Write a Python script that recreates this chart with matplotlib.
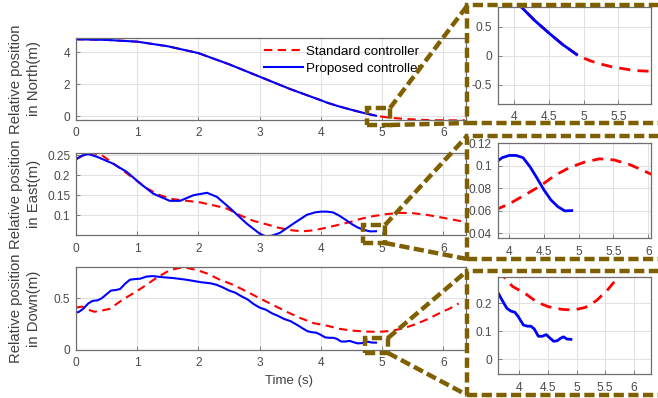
import matplotlib
matplotlib.use("Agg")
import matplotlib.pyplot as plt
from matplotlib.lines import Line2D
from matplotlib.patches import Rectangle
from matplotlib.ticker import FuncFormatter

plt.rcParams['font.family'] = ['Liberation Sans', 'DejaVu Sans']
plt.rcParams['axes.unicode_minus'] = False

# ---------------- data ----------------
north_t_blue = [0.0, 0.5, 1.0, 1.5, 2.0, 2.5, 3.0, 3.5, 4.0, 4.1, 4.3, 4.5, 4.7, 4.9]
north_blue   = [4.82, 4.78, 4.67, 4.38, 3.95, 3.25, 2.47, 1.69, 0.99, 0.84, 0.60, 0.39, 0.19, 0.02]
north_t_red  = [0.0, 0.5, 1.0, 1.5, 2.0, 2.5, 3.0, 3.5, 4.0, 4.1, 4.3, 4.5, 4.7, 4.9,
                5.0, 5.1, 5.2, 5.3, 5.4, 5.5, 5.6, 5.7, 5.8, 6.0, 6.2, 6.35]
north_red    = [4.82, 4.78, 4.67, 4.38, 3.95, 3.25, 2.47, 1.69, 0.99, 0.84, 0.60, 0.39, 0.19, 0.02,
                -0.04, -0.09, -0.13, -0.16, -0.19, -0.21, -0.23, -0.25, -0.26, -0.27, -0.27, -0.27]

east_t_blue = [0.0, 0.1, 0.2, 0.34, 0.6, 0.83, 1.05, 1.26, 1.53, 1.7, 1.92, 2.14, 2.3, 2.52,
               2.79, 3.0, 3.1, 3.2, 3.33, 3.55, 3.77, 3.9, 4.0, 4.1, 4.2, 4.3, 4.4, 4.5,
               4.6, 4.7, 4.8, 4.9]
east_blue   = [0.239, 0.249, 0.2525, 0.246, 0.229, 0.208, 0.179, 0.154, 0.136, 0.136, 0.150,
               0.156, 0.146, 0.117, 0.079, 0.054, 0.0475, 0.049, 0.056, 0.079, 0.101, 0.107,
               0.109, 0.109, 0.107, 0.099, 0.089, 0.0785, 0.0696, 0.0636, 0.0598, 0.0601]
east_t_red  = [0.0, 0.2, 0.39, 0.56, 0.72, 0.94, 1.16, 1.37, 1.59, 1.81, 2.03, 2.24, 2.46,
               2.68, 2.9, 3.12, 3.33, 3.55, 3.7, 3.85, 4.0, 4.2, 4.45, 4.65, 4.86, 5.08,
               5.3, 5.51, 5.73, 5.95, 6.16, 6.33]
east_red    = [0.241, 0.254, 0.253, 0.235, 0.217, 0.192, 0.167, 0.150, 0.140, 0.136, 0.132,
               0.125, 0.117, 0.100, 0.086, 0.077, 0.068, 0.062, 0.060, 0.062, 0.066, 0.073,
               0.082, 0.091, 0.098, 0.103, 0.106, 0.105, 0.101, 0.095, 0.089, 0.084]

down_t_blue = [0.0, 0.05, 0.12, 0.2, 0.27, 0.35, 0.42, 0.5, 0.57, 0.65, 0.72, 0.8, 0.88, 0.95,
               1.05, 1.15, 1.25, 1.4, 1.6, 1.8, 1.95, 2.05, 2.2, 2.3, 2.4, 2.5, 2.6, 2.7,
               2.8, 2.9, 3.0, 3.1, 3.2, 3.3, 3.4, 3.5, 3.62, 3.7, 3.78, 3.85, 3.92, 3.98,
               4.07, 4.14, 4.2, 4.26, 4.33, 4.4, 4.47, 4.53, 4.6, 4.66, 4.72, 4.77, 4.83, 4.9]
down_blue   = [0.36, 0.37, 0.40, 0.45, 0.475, 0.48, 0.50, 0.54, 0.575, 0.58, 0.59, 0.64, 0.68,
               0.685, 0.69, 0.71, 0.715, 0.705, 0.695, 0.68, 0.665, 0.655, 0.645, 0.63, 0.605,
               0.575, 0.555, 0.52, 0.49, 0.445, 0.41, 0.39, 0.355, 0.33, 0.30, 0.28, 0.24,
               0.21, 0.182, 0.172, 0.168, 0.152, 0.122, 0.118, 0.118, 0.108, 0.082, 0.082,
               0.088, 0.076, 0.064, 0.066, 0.075, 0.080, 0.072, 0.071]
down_t_red  = [0.0, 0.1, 0.2, 0.3, 0.45, 0.56, 0.65, 0.77, 0.94, 1.1, 1.32, 1.54, 1.75, 1.97,
               2.14, 2.35, 2.57, 2.79, 3.0, 3.22, 3.44, 3.66, 3.88, 4.1, 4.3, 4.5, 4.75,
               4.95, 5.15, 5.35, 5.55, 5.75, 5.95, 6.1, 6.25]
down_red    = [0.41, 0.42, 0.39, 0.37, 0.385, 0.40, 0.44, 0.49, 0.55, 0.61, 0.70, 0.775, 0.80,
               0.775, 0.74, 0.68, 0.63, 0.565, 0.50, 0.435, 0.37, 0.31, 0.26, 0.235, 0.205,
               0.188, 0.178, 0.176, 0.185, 0.21, 0.25, 0.30, 0.36, 0.40, 0.45]

legend_labels = ['Standard controller', 'Proposed controller']
ylabels = ['Relative position\nin North(m)', 'Relative position\nin East(m)',
           'Relative position\nin Down(m)']
xlabel = 'Time (s)'

# ---------------- layout ----------------
W, H = 658, 398
fig = plt.figure(figsize=(W / 100, H / 100), dpi=100)

def box(l, t, r, b):
    return [l / W, 1 - b / H, (r - l) / W, (b - t) / H]

def fx(x):
    return x / W

def fy(y):
    return 1 - y / H

TICKC = '#4a4a4a'
SPINEC = '#6e6e6e'
GOLD = '#7f6000'

def style(ax, fs=8.6):
    for s in ax.spines.values():
        s.set_color(SPINEC)
        s.set_linewidth(0.9)
    ax.grid(True, color='#e2e2e2', linewidth=0.8)
    ax.set_axisbelow(True)
    ax.tick_params(direction='in', length=3, width=0.6, colors=SPINEC,
                   labelcolor=TICKC, labelsize=fs, top=False, right=False)
    ax.tick_params(axis='x', pad=5.2)
    ax.tick_params(axis='y', pad=4.2)
    ax.xaxis.set_major_formatter(FuncFormatter(lambda v, p: '%g' % round(v, 4)))
    ax.yaxis.set_major_formatter(FuncFormatter(lambda v, p: '%g' % round(v, 4)))

main_boxes = [box(76, 38, 466, 120), box(76, 152.7, 466, 235.3), box(76, 267.3, 466, 350)]
ins_boxes = [box(497.7, 6.7, 651, 104), box(497.7, 142.7, 651, 238.3), box(497.7, 276.7, 651, 374.3)]

series = [
    (north_t_red, north_red, north_t_blue, north_blue),
    (east_t_red, east_red, east_t_blue, east_blue),
    (down_t_red, down_red, down_t_blue, down_blue),
]
main_ylims = [(-0.25, 4.9), (0.05, 0.256), (0.0, 0.8)]
main_yticks = [[0, 2, 4], [0.1, 0.15, 0.2, 0.25], [0, 0.5]]
ins_xlims = [(3.765, 5.97), (3.836, 6.04), (3.62, 6.30)]
ins_ylims = [(-0.83, 0.84), (0.0355, 0.1203), (-0.054, 0.295)]
ins_xticks = [[4, 4.5, 5, 5.5], [4, 4.5, 5, 5.5, 6], [4, 4.5, 5, 5.5, 6]]
ins_yticks = [[-0.5, 0, 0.5], [0.04, 0.06, 0.08, 0.1, 0.12], [0, 0.1, 0.2]]

for i in range(3):
    tr, yr, tb, yb = series[i]
    ax = fig.add_axes(main_boxes[i])
    style(ax)
    lr, = ax.plot(tr, yr, color='red', linewidth=1.5, linestyle=(0, (4, 2.6)))
    lb, = ax.plot(tb, yb, color='blue', linewidth=1.5)
    ax.set_xlim(0, 6.37)
    ax.set_ylim(*main_ylims[i])
    ax.set_xticks([0, 1, 2, 3, 4, 5, 6])
    ax.set_yticks(main_yticks[i])
    ax.set_ylabel(ylabels[i], fontsize=10.7, color='#404040', linespacing=1.32)
    ax.yaxis.set_label_coords(-0.09, 0.5)
    if i == 0:
        ax.legend([lr, lb], legend_labels, loc='center left', bbox_to_anchor=(0.482, 0.73),
                  frameon=False, fontsize=9.6, handlelength=2.9, handletextpad=0.25,
                  labelspacing=0.35, borderpad=0, borderaxespad=0)
    if i == 2:
        ax.set_xlabel(xlabel, fontsize=9.5, color='#404040')
        ax.xaxis.set_label_coords(0.546, -0.30)

    ai = fig.add_axes(ins_boxes[i])
    style(ai)
    ai.plot(tr, yr, color='red', linewidth=2.0, linestyle=(0, (4, 2.6)))
    ai.plot(tb, yb, color='blue', linewidth=2.0)
    ai.set_xlim(*ins_xlims[i])
    ai.set_ylim(*ins_ylims[i])
    ai.set_xticks(ins_xticks[i])
    ai.set_yticks(ins_yticks[i])

# ---------------- zoom frames and connectors (figure pixels) ----------------
dash = (0, (2.3, 1.0))
LW = 3.2
frames = [(467, 5.5, 700, 123), (467, 136, 700, 259), (467, 271, 700, 395)]
small = [(367, 108, 390, 125), (363, 225, 385, 243), (365, 338, 388, 353)]
connect = [
    [((390, 108), (467, 6)), ((390, 125), (467, 123))],
    [((385, 225), (467, 136)), ((385, 243), (467, 259))],
    [((388, 338), (467, 271)), ((388, 353), (467, 395))],
]

def rect(l, t, r, b):
    p = Rectangle((fx(l), fy(b)), fx(r) - fx(l), fy(t) - fy(b), transform=fig.transFigure,
                  fill=False, edgecolor=GOLD, linewidth=LW, linestyle=dash, zorder=10)
    fig.add_artist(p)

for f in frames:
    rect(*f)
for s in small:
    rect(*s)
for pair in connect:
    for (x0, y0), (x1, y1) in pair:
        fig.add_artist(Line2D([fx(x0), fx(x1)], [fy(y0), fy(y1)], transform=fig.transFigure,
                              color=GOLD, linewidth=LW, linestyle=dash, zorder=10))

fig.savefig('out.png', dpi=100)
